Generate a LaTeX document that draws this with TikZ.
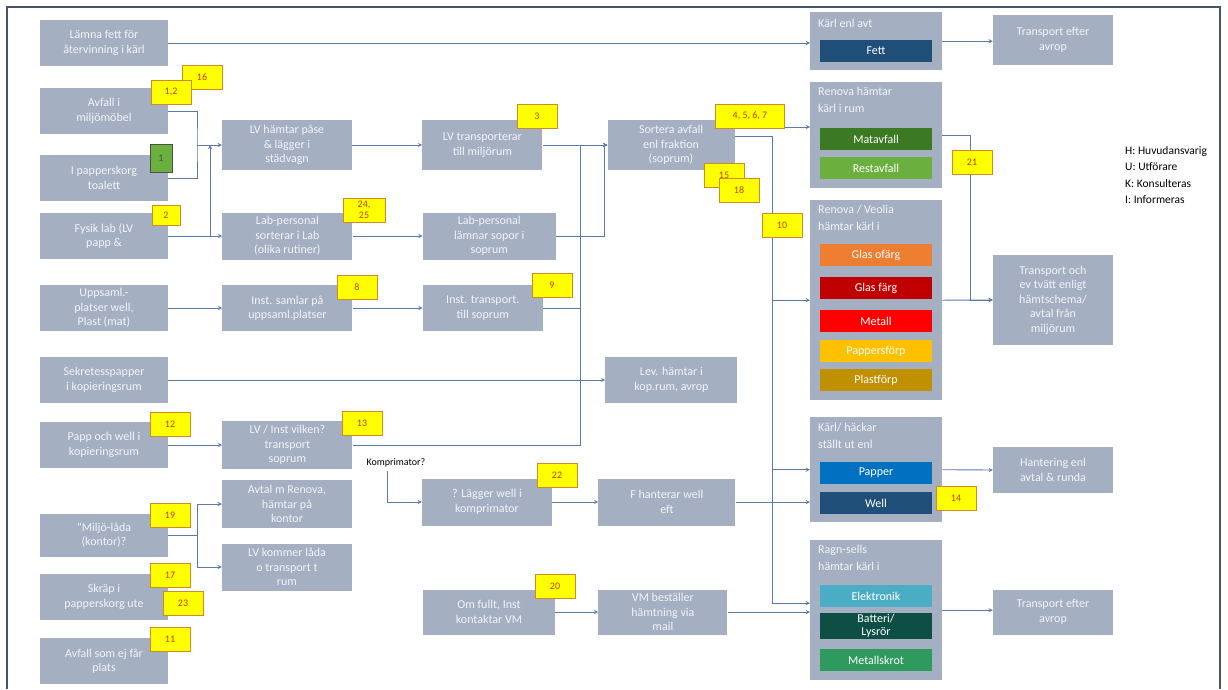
\documentclass[tikz,border=0pt]{standalone}
\usepackage{fontspec}
\setmainfont{Carlito}
\usetikzlibrary{positioning,arrows}
\definecolor{boxgray}{HTML}{A5AFC2}
\definecolor{boxtext}{HTML}{F2F4F8}
\definecolor{linecol}{HTML}{5B79AB}
\definecolor{framecol}{HTML}{44546A}
\definecolor{tagyellow}{HTML}{FFFF00}
\definecolor{tagedge}{HTML}{D08A2A}
\definecolor{tagtext}{HTML}{B8410E}
\definecolor{fettblue}{HTML}{1F4E79}
\definecolor{matgreen}{HTML}{3B7A22}
\definecolor{restgreen}{HTML}{6BAF3F}
\definecolor{glasorange}{HTML}{ED7D31}
\definecolor{glasred}{HTML}{C00000}
\definecolor{metallred}{HTML}{FF0000}
\definecolor{pappyellow}{HTML}{FFC000}
\definecolor{plastgold}{HTML}{BF9000}
\definecolor{papperblue}{HTML}{0070C0}
\definecolor{wellblue}{HTML}{1F4E79}
\definecolor{elektcyan}{HTML}{4BACC6}
\definecolor{battteal}{HTML}{0E4F45}
\definecolor{skrotgreen}{HTML}{2E9A5E}

\begin{document}
\begin{tikzpicture}[x=1pt, y=-1pt,
    box/.style={rectangle, fill=boxgray, text=boxtext, align=center, inner sep=1pt,
        minimum width=128pt, minimum height=46pt, font=\fontsize{12}{14.5}\selectfont},
    bin/.style={rectangle, fill=boxgray, anchor=north west, minimum width=132pt},
    bintitle/.style={anchor=north west, align=left, text=boxtext, inner sep=0pt,
        font=\fontsize{12}{17}\selectfont},
    fraction/.style={rectangle, text=white, minimum width=112pt, minimum height=22pt,
        inner sep=1pt, align=center, font=\fontsize{12}{12}\selectfont},
    tag/.style={rectangle, fill=tagyellow, draw=tagedge, thick, minimum width=40pt,
        minimum height=24pt, inner sep=1pt, align=center, text=tagtext,
        font=\fontsize{10}{10}\selectfont},
    conn/.style={->, >=stealth, draw=linecol, line width=0.9pt},
    plain/.style={draw=linecol, line width=0.9pt}
    ]
        \useasboundingbox[fill=white] (0,0) rectangle (1228,689);
        \draw[framecol, line width=1.5pt] (7,689) -- (7,7) -- (1220,7) -- (1220,689);

        %Nodes: start
        \node[box] (fett)      at (104,43)  {Lämna fett för\\återvinning i kärl};
        \node[box] (avfall)    at (104,111) {Avfall i\\miljömöbel};
        \node[box] (pkorg)     at (104,178) {I papperskorg\\toalett};
        \node[box] (fysik)     at (104,236) {Fysik lab (LV\\papp \&};
        \node[box] (uppsaml)   at (104,308) {Uppsaml.-\\platser well,\\Plast (mat)};
        \node[box] (sekretess) at (104,380) {Sekretesspapper\\i kopieringsrum};
        \node[box] (pappwell)  at (104,445) {Papp och well i\\kopieringsrum};
        \node[box, minimum height=43pt] (miljolada) at (104,535) {"Miljö-låda\\(kontor)?};
        \node[box] (skrap)     at (104,597) {Skräp i\\papperskorg ute};
        \node[box] (avfallej)  at (104,661) {Avfall som ej får\\plats};

        %Nodes: handling
        \node[box, minimum width=130pt, minimum height=50pt]
            (lvhamtar)   at (287,145)          {LV hämtar påse\\\& lägger i\\städvagn};
        \node[box, minimum width=130pt, minimum height=47pt]
            (labpers)    [right=54pt of fysik]    {Lab-personal\\sorterar i Lab\\(olika rutiner)};
        \node[box, minimum width=130pt]
            (instsamlar) [right=54pt of uppsaml]  {Inst. samlar på\\uppsaml.platser};
        \node[box, minimum width=130pt, minimum height=48pt]
            (lvinst)     [right=54pt of pappwell] {LV / Inst vilken?\\transport\\soprum};
        \node[box, minimum width=130pt, minimum height=48pt]
            (avtalren)   at (287,504)          {Avtal m Renova,\\hämtar på\\kontor};
        \node[box, minimum width=130pt, minimum height=47pt]
            (lvkommer)   at (287,567)          {LV kommer låda\\o transport t\\rum};

        \node[box, minimum width=120pt, minimum height=50pt]
            (lvtransp)   [right=70pt of lvhamtar]   {LV transporterar\\till miljörum};
        \node[box, minimum width=133pt, minimum height=47pt]
            (labpersl)   [right=70pt of labpers]    {Lab-personal\\lämnar sopor i\\soprum};
        \node[box, minimum width=120pt]
            (insttransp) [right=70pt of instsamlar] {Inst. transport.\\till soprum};
        \node[font=\fontsize{10}{10}\selectfont]
            (komp)       at (396,463)          {Komprimator?};
        \node[box, minimum width=130pt, minimum height=47pt]
            (lagger)     at (487,502)          {? Lägger well i\\komprimator};
        \node[box, minimum width=132pt, minimum height=45pt]
            (omfullt)    at (489,612)          {Om fullt, Inst\\kontaktar VM};

        \node[box, minimum width=127pt, minimum height=50pt]
            (sortera)    at (671,145)          {Sortera avfall\\enl fraktion\\(soprum)};
        \node[box, minimum width=132pt]
            (lev)        [right=437pt of sekretess] {Lev. hämtar i\\kop.rum, avrop};
        \node[box, minimum width=137pt, minimum height=47pt]
            (fhant)      [right=46pt of lagger]     {F hanterar well\\eft};
        \node[box, minimum width=129pt, minimum height=45pt]
            (vmbest)     [right=43pt of omfullt]    {VM beställer\\hämtning via\\mail};

        %Nodes: bins
        \node[bin, minimum height=58pt]  (karlavt) at (810,12)  {};
        \node[bintitle] (karlavtT) at (818,19)  {Kärl enl avt};
        \node[fraction, fill=fettblue]   (fettbar)  at (876,51)  {Fett};

        \node[bin, minimum height=106pt] (renova)   at (810,82)  {};
        \node[bintitle] (renovaT)  at (818,87)  {Renova hämtar\\kärl i rum};
        \node[fraction, fill=matgreen]   (matbar)   at (876,139) {Matavfall};
        \node[fraction, fill=restgreen]  (restbar)  at (876,168) {Restavfall};

        \node[bin, minimum height=200pt] (veolia)   at (810,200) {};
        \node[bintitle] (veoliaT)  at (818,205) {Renova / Veolia\\hämtar kärl i};
        \node[fraction, fill=glasorange] (ofargbar) at (876,255) {Glas ofärg};
        \node[fraction, fill=glasred]    (fargbar)  at (876,288) {Glas färg};
        \node[fraction, fill=metallred]  (metbar)   at (876,321) {Metall};
        \node[fraction, fill=pappyellow] (pforpbar) at (876,351) {Pappersförp};
        \node[fraction, fill=plastgold]  (plastbar) at (876,380) {Plastförp};

        \node[bin, minimum height=105pt] (hackar)   at (810,417) {};
        \node[bintitle] (hackarT)  at (818,423) {Kärl/ häckar\\ställt ut enl};
        \node[fraction, fill=papperblue] (papbar)   at (876,473) {Papper};
        \node[fraction, fill=wellblue]   (wellbar)  at (876,503) {Well};

        \node[bin, minimum height=140pt] (ragn)     at (810,540) {};
        \node[bintitle] (ragnT)    at (818,545) {Ragn-sells\\hämtar kärl i};
        \node[fraction, fill=elektcyan]  (elbar)    at (876,596) {Elektronik};
        \node[fraction, fill=battteal, font=\fontsize{12}{13}\selectfont]
            (battbar)  at (876,626) {Batteri/\\Lysrör};
        \node[fraction, fill=skrotgreen] (skrotbar) at (876,660) {Metallskrot};

        %Nodes: transport
        \node[box, minimum width=120pt, minimum height=50pt]
            (transp1)   at (1053,40)  {Transport efter\\avrop};
        \node[box, minimum width=120pt, minimum height=90pt]
            (transp2)   at (1053,300) {Transport och\\ev tvätt enligt\\hämtschema/\\avtal från\\miljörum};
        \node[box, minimum width=120pt]
            (hantering) at (1053,470) {Hantering enl\\avtal \& runda};
        \node[box, minimum width=120pt, minimum height=45pt]
            (transp3)   at (1053,612) {Transport efter\\avrop};

        \node[anchor=north west, align=left, inner sep=0pt, font=\fontsize{11.5}{16.5}\selectfont]
            (legend) at (1125,146) {H: Huvudansvarig\\U: Utförare\\K: Konsulteras\\I: Informeras};

        %Lines
        \coordinate (j1) at (197,145);
        \coordinate (j2) at (210,237);
        \coordinate (j5) at (772,136);
        \coordinate (j6) at (197,535);

        \draw[conn] (fett.east) -- (fett.east -| karlavt.west);
        \draw[conn] (karlavt.east) -- (karlavt.east -| transp1.west);
        \draw[plain] (avfall.east) -| (j1) |- (pkorg.east);
        \draw[conn] (j1) -- (lvhamtar.west);
        \draw[conn] (fysik.east) -- (labpers.west);
        \draw[conn] (j2) -- (j2 |- lvhamtar.west);
        \draw[conn] (lvhamtar.east) -- (lvtransp.west);
        \draw[conn] (labpers.east) -- (labpersl.west);
        \draw[conn] (uppsaml.east) -- (instsamlar.west);
        \draw[conn] (instsamlar.east) -- (insttransp.west);
        \draw[conn] (lvtransp.east) -- (sortera.west);
        \draw[conn] (labpersl.east) -- ++(48,0) |- (sortera.west);
        \draw[conn] (lvinst.east) -- ++(228,0) |- (sortera.west);
        \draw[plain] (insttransp.east) -- ++(38,0);
        \draw[conn] (sekretess.east) -- (lev.west);
        \draw[conn] (pappwell.east) -- (lvinst.west);
        \draw[conn] ([xshift=-9pt]komp.south) |- (lagger.west);
        \draw[conn] (lagger.east) -- (fhant.west);
        \draw[conn] (fhant.east) -- (fhant.east -| hackar.west);
        \draw[conn] ([yshift=18pt]sortera.east) -- ([yshift=18pt]sortera.east -| renova.west);
        \draw[plain] ([yshift=9pt]sortera.east) -- (j5);
        \draw[conn] (j5) |- (veolia.west);
        \draw[conn] (j5) |- (hackar.west);
        \draw[conn] (j5) |- ([yshift=7pt]ragn.west);
        \draw[conn] (omfullt.east) -- (vmbest.west);
        \draw[conn] (vmbest.east) -- (vmbest.east -| ragn.west);
        \draw[plain] (miljolada.east) -- (j6);
        \draw[conn] (j6) |- (avtalren.west);
        \draw[conn] (j6) |- (lvkommer.west);
        \draw[conn] (renova.east) -- ++(28,0) |- (transp2.west);
        \draw[conn] (veolia.east) -- (transp2.west);
        \draw[conn] (hackar.east) -- (hantering.west);
        \draw[conn] (ragn.east) -- (ragn.east -| transp3.west);

        %Tags
        \node[tag] (t16)   at (202,77)  {16};
        \node[tag] (t12a)  at (171,92)  {1,2};
        \node[tag, fill=restgreen, draw=black!70, minimum width=22pt, minimum height=28pt,
            text=black!70] (t1) at (161,158) {1};
        \node[tag, minimum width=28pt, minimum height=20pt] (t2) at (166,215) {2};
        \node[tag, minimum width=42pt, font=\fontsize{10}{10.5}\selectfont] (t2425) at (364,210) {24,\\25};
        \node[tag] (t3)    at (537,116) {3};
        \node[tag, minimum width=69pt] (t4567) at (750,116) {4, 5, 6, 7};
        \node[tag] (t15)   at (724,175) {15};
        \node[tag] (t18)   at (739,190) {18};
        \node[tag] (t10)   at (782,225) {10};
        \node[tag] (t8)    at (357,287) {8};
        \node[tag] (t9)    at (552,285) {9};
        \node[tag] (t12)   at (170,424) {12};
        \node[tag] (t13)   at (362,423) {13};
        \node[tag] (t22)   at (557,475) {22};
        \node[tag] (t19)   at (170,515) {19};
        \node[tag] (t17)   at (170,575) {17};
        \node[tag] (t23)   at (183,603) {23};
        \node[tag] (t11)   at (170,639) {11};
        \node[tag] (t20)   at (555,586) {20};
        \node[tag] (t21)   at (972,162) {21};
        \node[tag] (t14)   at (956,498) {14};
\end{tikzpicture}
\end{document}
